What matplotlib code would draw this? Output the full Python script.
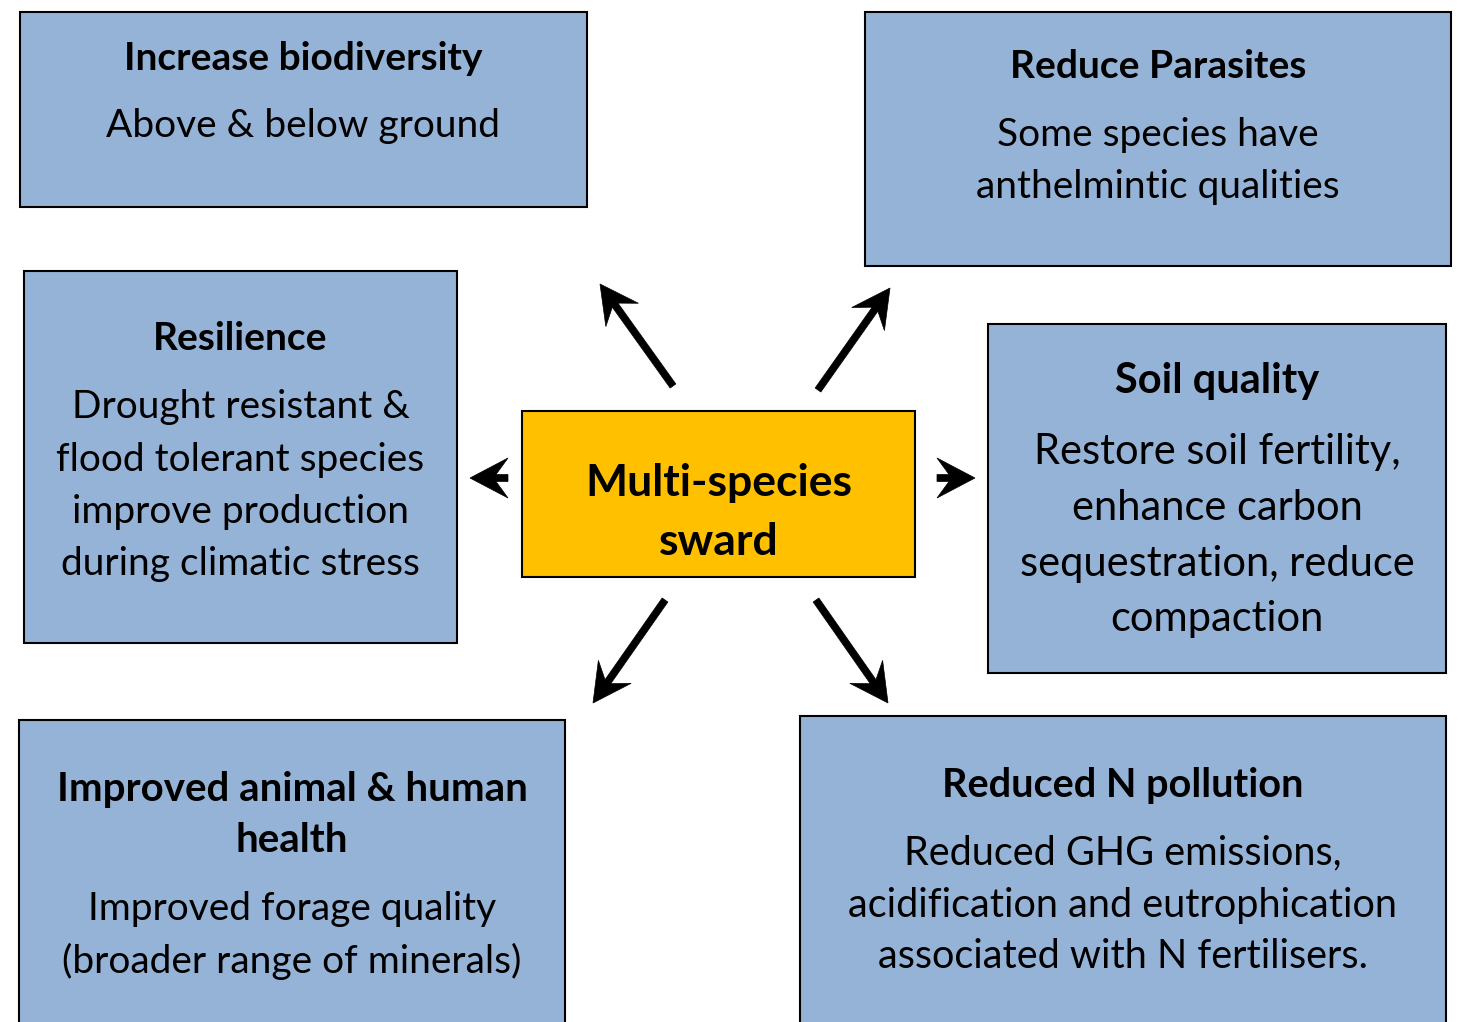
import matplotlib
matplotlib.use("Agg")
import matplotlib.pyplot as plt
from matplotlib.patches import Rectangle, Polygon
import numpy as np

plt.rcParams['font.family'] = ['Lato', 'DejaVu Sans']

W, H = 1464, 1022

# benefit boxes: title lines, body lines
titles = [
    ["Increase biodiversity"],
    ["Reduce Parasites"],
    ["Resilience"],
    ["Soil quality"],
    ["Improved animal & human", "health"],
    ["Reduced N pollution"],
]
bodies = [
    ["Above & below ground"],
    ["Some species have", "anthelmintic qualities"],
    ["Drought resistant &", "flood tolerant species", "improve production", "during climatic stress"],
    ["Restore soil fertility,", "enhance carbon", "sequestration, reduce", "compaction"],
    ["Improved forage quality", "(broader range of minerals)"],
    ["Reduced GHG emissions,", "acidification and eutrophication", "associated with N fertilisers."],
]
# box extents in pixels: x0, y0, x1, y1
boxes = [
    (20, 12, 587, 207),
    (865, 12, 1451, 266),
    (24, 271, 457, 643),
    (988, 324, 1446, 673),
    (19, 720, 565, 1030),
    (800, 716, 1446, 1030),
]
# vertical centres of title lines and body lines
title_y = [[58], [67], [339], [381], [789, 841], [785]]
body_y = [[126], [135, 187], [407, 460, 512, 564], [452, 508, 564, 619],
          [909, 961], [853, 905, 957]]
title_size = [28, 28, 28, 30, 29, 28.5]
body_size = [28, 28, 28, 30, 28, 28.5]

centre_box = (522, 411, 915, 577)
centre_text = ["Multi-species", "sward"]
centre_y = [483, 542]

# arrows: start -> tip
arrows = [
    ((673, 386), (600, 284)),
    ((818, 390), (890, 288)),
    ((508, 478), (470, 478)),
    ((937, 478), (975, 478)),
    ((665, 600), (593, 703)),
    ((816, 600), (888, 703)),
]

BLUE = "#95B3D7"
GOLD = "#FFC000"


def stealth_arrow(ax, start, tip, head_len=38, head_w=40, notch=12, shaft_w=7):
    s = np.array(start, float)
    t = np.array(tip, float)
    d = t - s
    d /= np.hypot(*d)
    n = np.array([-d[1], d[0]])
    back = t - d * head_len
    nk = back + d * notch
    pts = [
        s + n * shaft_w / 2,
        nk + n * shaft_w / 2,
        back + n * head_w / 2,
        t,
        back - n * head_w / 2,
        nk - n * shaft_w / 2,
        s - n * shaft_w / 2,
    ]
    ax.add_patch(Polygon(pts, closed=True, facecolor="black", edgecolor="black", lw=0.5))


fig = plt.figure(figsize=(W / 100, H / 100), dpi=100)
ax = fig.add_axes([0, 0, 1, 1])
ax.set_xlim(0, W)
ax.set_ylim(H, 0)
ax.axis("off")

for i, (x0, y0, x1, y1) in enumerate(boxes):
    ax.add_patch(Rectangle((x0, y0), x1 - x0, y1 - y0, facecolor=BLUE,
                           edgecolor="black", lw=1.5))
    cx = (x0 + x1) / 2
    for line, y in zip(titles[i], title_y[i]):
        ax.text(cx, y, line, ha="center", va="center", fontsize=title_size[i],
                fontweight="bold", color="black")
    for line, y in zip(bodies[i], body_y[i]):
        ax.text(cx, y, line, ha="center", va="center", fontsize=body_size[i],
                color="black")

x0, y0, x1, y1 = centre_box
ax.add_patch(Rectangle((x0, y0), x1 - x0, y1 - y0, facecolor=GOLD,
                       edgecolor="black", lw=1.5))
for line, y in zip(centre_text, centre_y):
    ax.text((x0 + x1) / 2, y, line, ha="center", va="center", fontsize=32,
            fontweight="bold", color="black")

for s, t in arrows:
    stealth_arrow(ax, s, t)

fig.savefig("out.png", dpi=100)
